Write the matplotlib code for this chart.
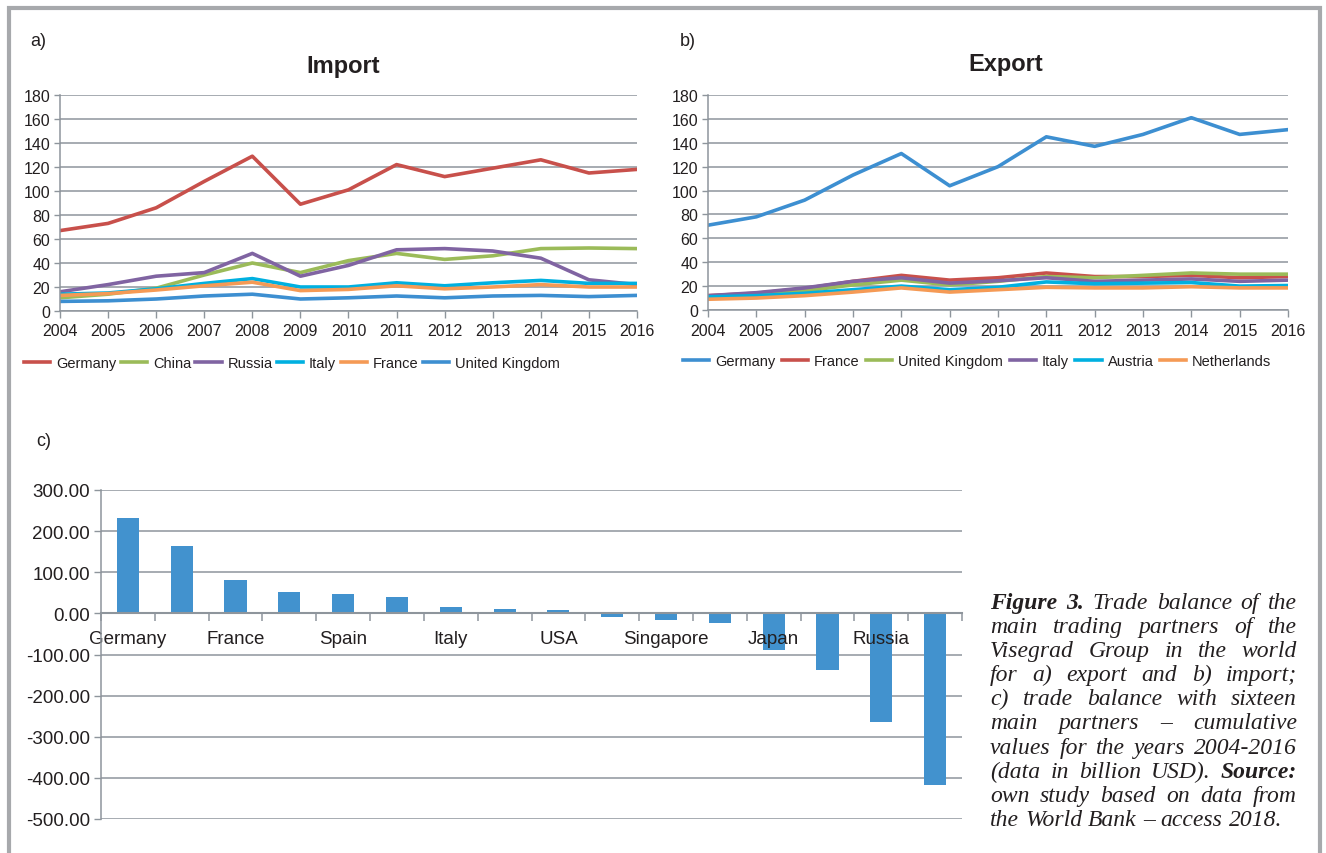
import matplotlib
matplotlib.use("Agg")
import matplotlib.pyplot as plt
from matplotlib.patches import Rectangle
from matplotlib.ticker import FormatStrFormatter

# =========================
# data
# =========================
years = list(range(2004, 2017))

imp_names = ["Germany", "China", "Russia", "Italy", "France", "United Kingdom"]
imp_germany = [67, 73, 86, 108, 129, 89, 101, 122, 112, 119, 126, 115, 118]
imp_china = [11, 14, 19, 30, 40, 32, 42, 48, 43, 46, 52, 52.5, 52]
imp_russia = [16, 22, 29, 32, 48, 29, 38, 51, 52, 50, 44, 26, 22]
imp_italy = [14, 15, 18.5, 23, 27, 20, 20, 23.5, 21, 23.5, 25.5, 23, 23]
imp_france = [13, 14.5, 17.5, 21, 24, 17, 18, 21, 18.5, 20, 22, 20, 20]
imp_uk = [8, 8.5, 10, 12.5, 14, 10, 11, 12.5, 11, 12.5, 13, 12, 13]

exp_names = ["Germany", "France", "United Kingdom", "Italy", "Austria", "Netherlands"]
exp_germany = [71, 78, 92, 113, 131, 104, 120, 145, 137, 147, 161, 147, 151]
exp_france = [12, 14, 18, 24, 29, 25, 27, 31, 28, 28, 29, 27, 28]
exp_uk = [11, 13, 16, 21, 25, 21, 24, 28, 27, 29, 31, 30, 30]
exp_italy = [12, 14.5, 18.5, 24, 27, 22.5, 24.5, 27, 24, 25, 26, 24, 25]
exp_austria = [11, 12, 14, 17, 20, 17, 19, 23.5, 22, 22.5, 23, 20, 20.5]
exp_nl = [9, 10, 12, 15, 18.5, 15, 17, 19, 18.5, 18.5, 19.5, 18.5, 18.5]

# 16 partners, only every other one is labelled on the chart
partners = ["Germany", "", "France", "", "Spain", "", "Italy", "", "USA", "",
            "Singapore", "", "Japan", "", "Russia", ""]
balance = [231, 163, 80, 53, 46, 41, 16, 11, 7, -8, -16, -23, -89, -138, -264, -417]

# colours
BLUE = "#3d8fd1"
RED = "#c8504b"
GREEN = "#9bbb59"
PURPLE = "#8064a2"
CYAN = "#00b0e0"
ORANGE = "#f59a55"
GRID = "#8e959c"
TXT = "#231f20"

W, H = 1326, 854
plt.rcParams["font.family"] = ["Liberation Sans", "DejaVu Sans"]
plt.rcParams["text.color"] = TXT
plt.rcParams["xtick.color"] = GRID
plt.rcParams["ytick.color"] = GRID
plt.rcParams["xtick.labelcolor"] = TXT
plt.rcParams["ytick.labelcolor"] = TXT

fig = plt.figure(figsize=(W / 100, H / 100), dpi=100)


def fx(px):
    return px / W


def fy(py):
    return 1 - py / H


def style_line_axes(ax, ymax):
    ax.set_xlim(years[0], years[-1])
    ax.set_ylim(0, ymax)
    ax.set_xticks(years)
    ax.set_yticks(range(0, ymax + 1, 20))
    ax.grid(axis="y", color=GRID, lw=1.1)
    ax.set_axisbelow(True)
    for s in ["top", "right"]:
        ax.spines[s].set_visible(False)
    for s in ["left", "bottom"]:
        ax.spines[s].set_color(GRID)
        ax.spines[s].set_linewidth(1.1)
    ax.tick_params(axis="x", length=5, width=1, labelsize=11.5, pad=4)
    ax.tick_params(axis="y", length=4, width=1, labelsize=11.5, pad=3)


# =========================
# a) Import
# =========================
ax1 = fig.add_axes([fx(60), fy(312), fx(577), 216 / H])
imp_series = [imp_germany, imp_china, imp_russia, imp_italy, imp_france, imp_uk]
imp_cols = [RED, GREEN, PURPLE, CYAN, ORANGE, BLUE]
for name, vals, c in zip(imp_names, imp_series, imp_cols):
    ax1.plot(years, vals, color=c, lw=2.6, label=name, solid_joinstyle="round")
style_line_axes(ax1, 180)
ax1.legend(loc="center left", bbox_to_anchor=(fx(24), fy(364)),
           bbox_transform=fig.transFigure, ncol=6, frameon=False,
           fontsize=10.5, handlelength=1.8, handletextpad=0.4,
           columnspacing=0.3, borderpad=0, borderaxespad=0)
fig.text(fx(30), fy(42), "a)", fontsize=13, va="center", ha="left")
fig.text(fx(343), fy(67), "Import", fontsize=17, fontweight="bold",
         va="center", ha="center")

# =========================
# b) Export
# =========================
ax2 = fig.add_axes([fx(708), fy(311), fx(580), 215 / H])
exp_series = [exp_germany, exp_france, exp_uk, exp_italy, exp_austria, exp_nl]
exp_cols = [BLUE, RED, GREEN, PURPLE, CYAN, ORANGE]
for name, vals, c in zip(exp_names, exp_series, exp_cols):
    ax2.plot(years, vals, color=c, lw=2.6, label=name, solid_joinstyle="round")
style_line_axes(ax2, 180)
ax2.legend(loc="center left", bbox_to_anchor=(fx(683), fy(362)),
           bbox_transform=fig.transFigure, ncol=6, frameon=False,
           fontsize=10.5, handlelength=1.8, handletextpad=0.4,
           columnspacing=0.45, borderpad=0, borderaxespad=0)
fig.text(fx(680), fy(42), "b)", fontsize=13, va="center", ha="left")
fig.text(fx(1006), fy(65), "Export", fontsize=17, fontweight="bold",
         va="center", ha="center")

# =========================
# c) trade balance bars
# =========================
ax3 = fig.add_axes([fx(101), fy(820), fx(861), 329 / H])
pos = list(range(len(balance)))
ax3.bar(pos, balance, width=0.41, color="#4292ce", zorder=1)
ax3.set_xlim(-0.5, len(balance) - 0.5)
ax3.set_ylim(-500, 300)
ax3.set_yticks(range(-500, 301, 100))
ax3.yaxis.set_major_formatter(FormatStrFormatter("%.2f"))
for v in ax3.get_yticks():
    ax3.axhline(v, color=GRID, lw=1.1, zorder=0.5)
for s in ["top", "right"]:
    ax3.spines[s].set_visible(False)
ax3.spines["left"].set_color(GRID)
ax3.spines["left"].set_linewidth(1.1)
ax3.spines["bottom"].set_position(("data", 0))
ax3.spines["bottom"].set_color(GRID)
ax3.spines["bottom"].set_linewidth(1.5)
ax3.set_xticks(pos[::2])
ax3.set_xticklabels(partners[::2])
ax3.set_xticks([p - 0.5 for p in pos] + [pos[-1] + 0.5], minor=True)
ax3.tick_params(axis="x", which="major", length=0, labelsize=13.5, pad=12)
ax3.tick_params(axis="x", which="minor", length=6, width=1.1)
ax3.tick_params(axis="y", length=5, width=1, labelsize=13.5, pad=3)
fig.text(fx(36), fy(442), "c)", fontsize=13, va="center", ha="left")

# =========================
# caption (justified by hand)
# =========================
cap_lines = [
    [("Figure 3.", "bold"), ("Trade balance of the", "normal")],
    [("main trading partners of the", "normal")],
    [("Visegrad Group in the world", "normal")],
    [("for a) export and b) import;", "normal")],
    [("c) trade balance with sixteen", "normal")],
    [("main partners \u2013 cumulative", "normal")],
    [("values for the years 2004-2016", "normal")],
    [("(data in billion USD).", "normal"), ("Source:", "bold")],
    [("own study based on data from", "normal")],
    [("the World Bank \u2013 access 2018.", "normal")],
]
cap_x0, cap_x1 = 990, 1297
base0, step = 609, 24.1
renderer = fig.canvas.get_renderer()
for i, line in enumerate(cap_lines):
    words = []
    for chunk, wt in line:
        for w in chunk.split(" "):
            words.append((w, wt))
    texts = []
    widths = []
    for w, wt in words:
        t = fig.text(0, fy(base0 + i * step), w, fontsize=17,
                     family="Liberation Serif", style="italic", fontweight=wt,
                     va="baseline", ha="left")
        texts.append(t)
        widths.append(t.get_window_extent(renderer).width)
    if i == len(cap_lines) - 1:
        gap = 6
    else:
        gap = (cap_x1 - cap_x0 - sum(widths)) / (len(words) - 1)
    x = cap_x0
    for t, wd in zip(texts, widths):
        t.set_x(fx(x))
        x += wd + gap

# outer frame
fig.patches.append(Rectangle((fx(9), -0.05), fx(1311), 0.05 + fy(9),
                             transform=fig.transFigure, fill=False,
                             edgecolor="#a7a9ac", lw=3))

fig.savefig("out.png", dpi=100)
